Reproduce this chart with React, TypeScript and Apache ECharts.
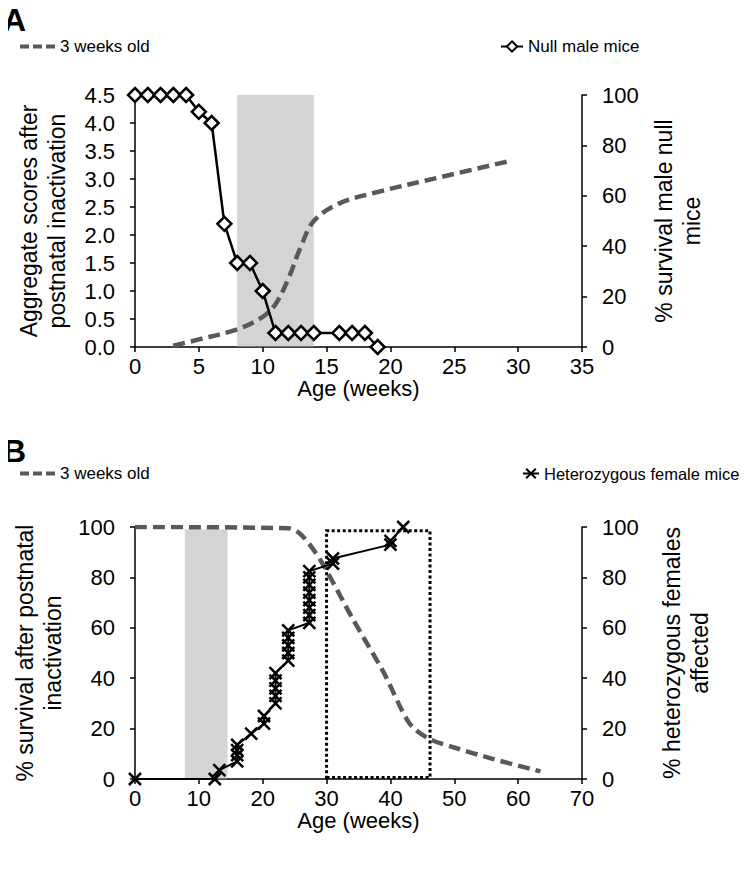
import React, { useEffect, useRef } from "react";
import * as echarts from "echarts";

// ---------- Panel A data ----------
const nullWeeks = [0, 1, 2, 3, 4, 5, 6, 7, 8, 9, 10, 11, 12, 13, 14, 16, 17, 18, 19];
const nullScores = [4.5, 4.5, 4.5, 4.5, 4.5, 4.2, 4.0, 2.2, 1.5, 1.5, 1.0, 0.25, 0.25, 0.25, 0.25, 0.25, 0.25, 0.25, 0];
const survAWeeks = [3, 5, 8, 10, 11, 12, 13, 14, 16, 19, 24, 29.5];
const survAValues = [0.5, 3, 7, 12, 17, 27, 40, 50, 57, 61.5, 67.5, 74];
const shadeA = [8, 14];
const shadeATop = 4.5;

// ---------- Panel B data ----------
const survBWeeks = [0, 24, 26, 29, 34, 39, 43, 46, 50, 56, 63.5];
const survBValues = [100, 99.5, 97, 87, 64, 42, 22, 16, 12.5, 8, 3];
const hetWeeks = [0, 12.5, 13.2, 16, 16, 16, 16, 18.2, 20.2, 20.2, 22, 22, 22, 22, 22, 24, 24, 24, 24, 24, 27.3, 27.3, 27.3, 27.3, 27.3, 27.3, 27.3, 27.3, 31, 31, 40, 40, 42];
const hetValues = [0, 0, 3.5, 7, 9.5, 11.5, 13.5, 18, 22, 25, 30, 33, 36, 39, 42, 47, 50, 53, 56, 59, 62, 65, 68, 71, 74, 77, 80, 82.5, 85.5, 87.5, 93, 94.5, 100];
const shadeB = [7.8, 14.5];
const shadeBTop = 99;
const boxB = [30, 46.2];
const boxBTop = 98.5;

const panelLabels = ["A", "B"];

const FONT = "Arial, 'Liberation Sans', sans-serif";
const DASH_COLOR = "#595959";
const X_SYMBOL = "path://M0,0L10,10M10,0L0,10";
const DASH_ICON = "path://M0,0h9v4h-9zM13,0h9v4h-9zM26,0h9v4h-9z";

const pairs = (xs: number[], ys: number[]) => xs.map((x, i) => [x, ys[i]]);

function xAxisCfg(gridIndex: number, max: number, interval: number, nameGap: number) {
  return {
    type: "value",
    gridIndex,
    min: 0,
    max,
    interval,
    name: "Age (weeks)",
    nameLocation: "middle",
    nameGap,
    nameTextStyle: { color: "#000", fontSize: 22, fontFamily: FONT },
    axisLine: { show: true, lineStyle: { color: "#000", width: 1.5 } },
    axisTick: { show: true, length: 5, lineStyle: { color: "#000", width: 1.5 } },
    axisLabel: { color: "#000", fontSize: 22, fontFamily: FONT, margin: 8 },
    splitLine: { show: false },
  };
}

function yAxisCfg(
  gridIndex: number,
  position: "left" | "right",
  max: number,
  interval: number,
  name: string,
  nameGap: number,
  decimals: number
) {
  return {
    type: "value",
    gridIndex,
    position,
    min: 0,
    max,
    interval,
    name,
    nameLocation: "middle",
    nameRotate: 90,
    nameGap,
    nameTextStyle: { color: "#000", fontSize: 23, lineHeight: 28, fontFamily: FONT },
    axisLine: { show: true, lineStyle: { color: "#000", width: 1.5 } },
    axisTick: { show: true, length: 5, lineStyle: { color: "#000", width: 1.5 } },
    axisLabel: {
      color: "#000",
      fontSize: 22,
      fontFamily: FONT,
      margin: 20,
      formatter: (v: number) => v.toFixed(decimals),
    },
    splitLine: { show: false },
  };
}

export default function App() {
  const ref = useRef<HTMLDivElement>(null);

  useEffect(() => {
    if (!ref.current) return;
    const chart = echarts.init(ref.current, undefined, { renderer: "svg" });

    const dashedLine = { color: DASH_COLOR, width: 4.5, type: [12, 6] };
    const legendText = { fontSize: 17, color: "#000", fontFamily: FONT };

    const option = {
      animation: false,
      backgroundColor: "#fff",
      graphic: [
        {
          type: "text",
          x: 3,
          y: 4,
          style: { text: panelLabels[0], font: `bold 32px ${FONT}`, fill: "#000", verticalAlign: "top", align: "left" },
        },
        {
          type: "text",
          x: 3,
          y: 435,
          style: { text: panelLabels[1], font: `bold 32px ${FONT}`, fill: "#000", verticalAlign: "top", align: "left" },
        },
      ],
      legend: [
        {
          data: [{ name: "3 weeks old", icon: DASH_ICON, itemStyle: { color: DASH_COLOR } }],
          left: 20,
          top: 38,
          padding: 0,
          itemWidth: 35,
          itemHeight: 4,
          textStyle: legendText,
          selectedMode: false,
        },
        {
          data: ["Null male mice"],
          left: 500,
          top: 38,
          padding: 0,
          itemWidth: 22,
          itemHeight: 13,
          textStyle: legendText,
          selectedMode: false,
        },
        {
          data: [{ name: "3 weeks old", icon: DASH_ICON, itemStyle: { color: DASH_COLOR } }],
          left: 20,
          top: 465,
          padding: 0,
          itemWidth: 35,
          itemHeight: 4,
          textStyle: legendText,
          selectedMode: false,
        },
        {
          data: ["Heterozygous female mice"],
          left: 522,
          top: 465,
          padding: 0,
          itemWidth: 16,
          itemHeight: 12,
          textStyle: { ...legendText, fontSize: 16.5 },
          selectedMode: false,
        },
      ],
      grid: [
        { left: 135, top: 95, width: 447, height: 252 },
        { left: 135, top: 527, width: 447, height: 252 },
      ],
      xAxis: [xAxisCfg(0, 35, 5, 26), xAxisCfg(1, 70, 10, 29)],
      yAxis: [
        yAxisCfg(0, "left", 4.5, 0.5, "Aggregate scores after\npostnatal inactivation", 64, 1),
        yAxisCfg(0, "right", 100, 20, "% survival male null\nmice", 66, 0),
        yAxisCfg(1, "left", 100, 20, "% survival after postnatal\ninactivation", 64, 0),
        yAxisCfg(1, "right", 100, 20, "% heterozygous females\naffected", 76, 0),
      ],
      series: [
        {
          name: "3 weeks old",
          type: "line",
          xAxisIndex: 0,
          yAxisIndex: 1,
          data: pairs(survAWeeks, survAValues),
          smooth: 0.35,
          showSymbol: false,
          symbol: "none",
          lineStyle: dashedLine,
          itemStyle: { color: DASH_COLOR },
          z: 2,
        },
        {
          name: "shadeA",
          type: "line",
          xAxisIndex: 0,
          yAxisIndex: 0,
          data: [[shadeA[0], 0]],
          showSymbol: false,
          symbol: "none",
          lineStyle: { opacity: 0 },
          silent: true,
          z: 3,
          markArea: {
            silent: true,
            itemStyle: { color: "rgba(170,170,170,0.5)" },
            data: [[{ xAxis: shadeA[0], yAxis: 0 }, { xAxis: shadeA[1], yAxis: shadeATop }]],
          },
        },
        {
          name: "Null male mice",
          type: "line",
          xAxisIndex: 0,
          yAxisIndex: 0,
          data: pairs(nullWeeks, nullScores),
          symbol: "diamond",
          symbolSize: 14,
          lineStyle: { color: "#000", width: 2.5 },
          itemStyle: { color: "#fff", borderColor: "#000", borderWidth: 2.5 },
          z: 4,
        },
        {
          name: "3 weeks old",
          type: "line",
          xAxisIndex: 1,
          yAxisIndex: 2,
          data: pairs(survBWeeks, survBValues),
          smooth: 0.3,
          showSymbol: false,
          symbol: "none",
          lineStyle: dashedLine,
          itemStyle: { color: DASH_COLOR },
          z: 2,
        },
        {
          name: "Heterozygous female mice",
          type: "line",
          xAxisIndex: 1,
          yAxisIndex: 3,
          data: pairs(hetWeeks, hetValues),
          symbol: X_SYMBOL,
          symbolSize: 12,
          lineStyle: { color: "#000", width: 2 },
          itemStyle: { color: "none", borderColor: "#000", borderWidth: 2.5 },
          z: 2,
        },
        {
          name: "shadeB",
          type: "line",
          xAxisIndex: 1,
          yAxisIndex: 2,
          data: [[shadeB[0], 0]],
          showSymbol: false,
          symbol: "none",
          lineStyle: { opacity: 0 },
          silent: true,
          z: 3,
          markArea: {
            silent: true,
            data: [
              [
                { xAxis: shadeB[0], yAxis: 0, itemStyle: { color: "rgba(170,170,170,0.5)" } },
                { xAxis: shadeB[1], yAxis: shadeBTop },
              ],
              [
                {
                  xAxis: boxB[0],
                  yAxis: 0.6,
                  itemStyle: { color: "rgba(0,0,0,0)", borderColor: "#000", borderWidth: 3, borderType: [3, 2.5] },
                },
                { xAxis: boxB[1], yAxis: boxBTop },
              ],
            ],
          },
        },
      ],
    };

    chart.setOption(option as any);
    return () => chart.dispose();
  }, []);

  return <div ref={ref} style={{ width: 751, height: 878, margin: -8 }} />;
}
